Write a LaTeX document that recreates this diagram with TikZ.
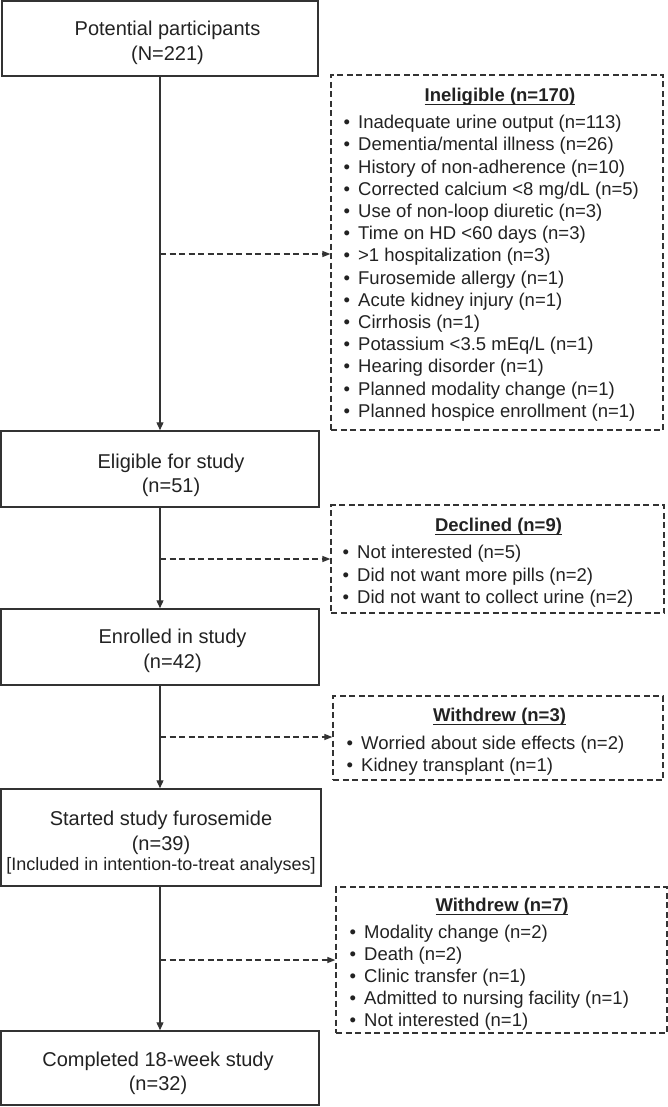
\documentclass[tikz,border=0pt]{standalone}
\usepackage{fontspec}
\setmainfont{Liberation Sans}
\usetikzlibrary{arrows.meta}
\definecolor{ink}{HTML}{222222}
\definecolor{edge}{HTML}{333333}
\newcommand\hul[1]{\setbox0\hbox{#1}\rlap{\rule[-3.6pt]{\wd0}{1.3pt}}\box0}
\newcommand\bul{\llap{\textbullet\hspace{8pt}}}
\begin{document}
\begin{tikzpicture}[x=1pt,y=-1pt,
  mainbox/.style={draw=edge, line width=1.5pt, inner sep=0pt},
  maintext/.style={inner sep=0pt, align=center, text=ink, font=\fontsize{20}{24.5}\selectfont},
  sidebox/.style={draw=edge, line width=1.3pt, dash pattern=on 6pt off 3.5pt, inner sep=0pt},
  head/.style={text=ink, font=\fontsize{18.5}{22}\selectfont\bfseries, inner sep=0pt},
  item/.style={text=ink, font=\fontsize{18.5}{22}\selectfont, inner sep=0pt, anchor=west},
  arr/.style={draw=edge, line width=1.3pt, -{Triangle[length=8pt,width=7pt]}},
  darr/.style={draw=edge, line width=1.2pt, dash pattern=on 6pt off 3.5pt, -{Triangle[length=8pt,width=6pt]}},
]
\useasboundingbox (0,0) rectangle (668,1107);

% main boxes
\node[mainbox, minimum width=316pt, minimum height=75pt] (b1) at (160,38.5) {};
\node[mainbox, minimum width=318pt, minimum height=76pt] (b2) at (160,469) {};
\node[mainbox, minimum width=318pt, minimum height=76pt] (b3) at (160,647) {};
\node[mainbox, minimum width=320pt, minimum height=97pt] (b4) at (161,837.5) {};
\node[mainbox, minimum width=318pt, minimum height=74pt] (b5) at (160,1068) {};

\node[maintext] (t1) at (167.5,43) {Potential participants\\(N=221)};
\node[maintext] (t2) at (171,475.5) {Eligible for study\\(n=51)};
\node[maintext] (t3) at (172.5,651) {Enrolled in study\\(n=42)};
\node[maintext] (t4) at (161,843) {Started study furosemide\\(n=39)\\[-4pt]{\fontsize{18}{21}\selectfont [Included in intention-to-treat analyses]}};
\node[maintext] (t5) at (158,1073.5) {Completed 18-week study\\(n=32)};

% side boxes
\node[sidebox, minimum width=332pt, minimum height=355pt] (ine) at (497,252.5) {};
\node[sidebox, minimum width=333pt, minimum height=108pt] (dec) at (497.5,559) {};
\node[sidebox, minimum width=330pt, minimum height=84pt] (wa) at (498,738) {};
\node[sidebox, minimum width=331pt, minimum height=146pt] (wb) at (501.5,960) {};

% headers
\node[head] (hine) at (500,96.5) {\hul{Ineligible (n=170)}};
\node[head] (hdec) at (498.5,526.5) {\hul{Declined (n=9)}};
\node[head] (hwa) at (499.5,716.5) {\hul{Withdrew (n=3)}};
\node[head] (hwb) at (502,906.5) {\hul{Withdrew (n=7)}};

% items
\foreach \t [count=\i from 0] in {Inadequate urine output (n=113), Dementia/mental illness (n=26),
  History of non-adherence (n=10), Corrected calcium <8 mg/dL (n=5), Use of non-loop diuretic (n=3),
  Time on HD <60 days (n=3), >1 hospitalization (n=3), Furosemide allergy (n=1),
  Acute kidney injury (n=1), Cirrhosis (n=1), Potassium <3.5 mEq/L (n=1), Hearing disorder (n=1),
  Planned modality change (n=1), Planned hospice enrollment (n=1)}
  \node[item] (ine\i) at (358,124+\i*22.2) {\bul\t};
\foreach \t [count=\i from 0] in {Not interested (n=5), Did not want more pills (n=2), Did not want to collect urine (n=2)}
  \node[item] (dec\i) at (357,554+\i*22.5) {\bul\t};
\foreach \t [count=\i from 0] in {Worried about side effects (n=2), Kidney transplant (n=1)}
  \node[item] (wa\i) at (361,745+\i*22.2) {\bul\t};
\foreach \t [count=\i from 0] in {Modality change (n=2), Death (n=2), Clinic transfer (n=1),
  Admitted to nursing facility (n=1), Not interested (n=1)}
  \node[item] (wb\i) at (364,934+\i*22) {\bul\t};

% main flow
\draw[arr] (b1.south) -- (b2.north);
\draw[arr] (b2.south) -- (b3.north);
\draw[arr] (b3.south) -- (b4.north -| b3.south);
\draw[arr] (b4.south -| b3.south) -- (b5.north);

% junctions and dashed arrows
\coordinate (j1) at (160,254);
\coordinate (j2) at (160,559);
\coordinate (j3) at (160,737);
\coordinate (j4) at (160,960);
\draw[darr] (j1) -- (j1 -| ine.west);
\draw[darr] (j2) -- (j2 -| dec.west);
\draw[darr] (j3) -- (j3 -| wa.west);
\draw[darr] (j4) -- (j4 -| wb.west);
\end{tikzpicture}
\end{document}
